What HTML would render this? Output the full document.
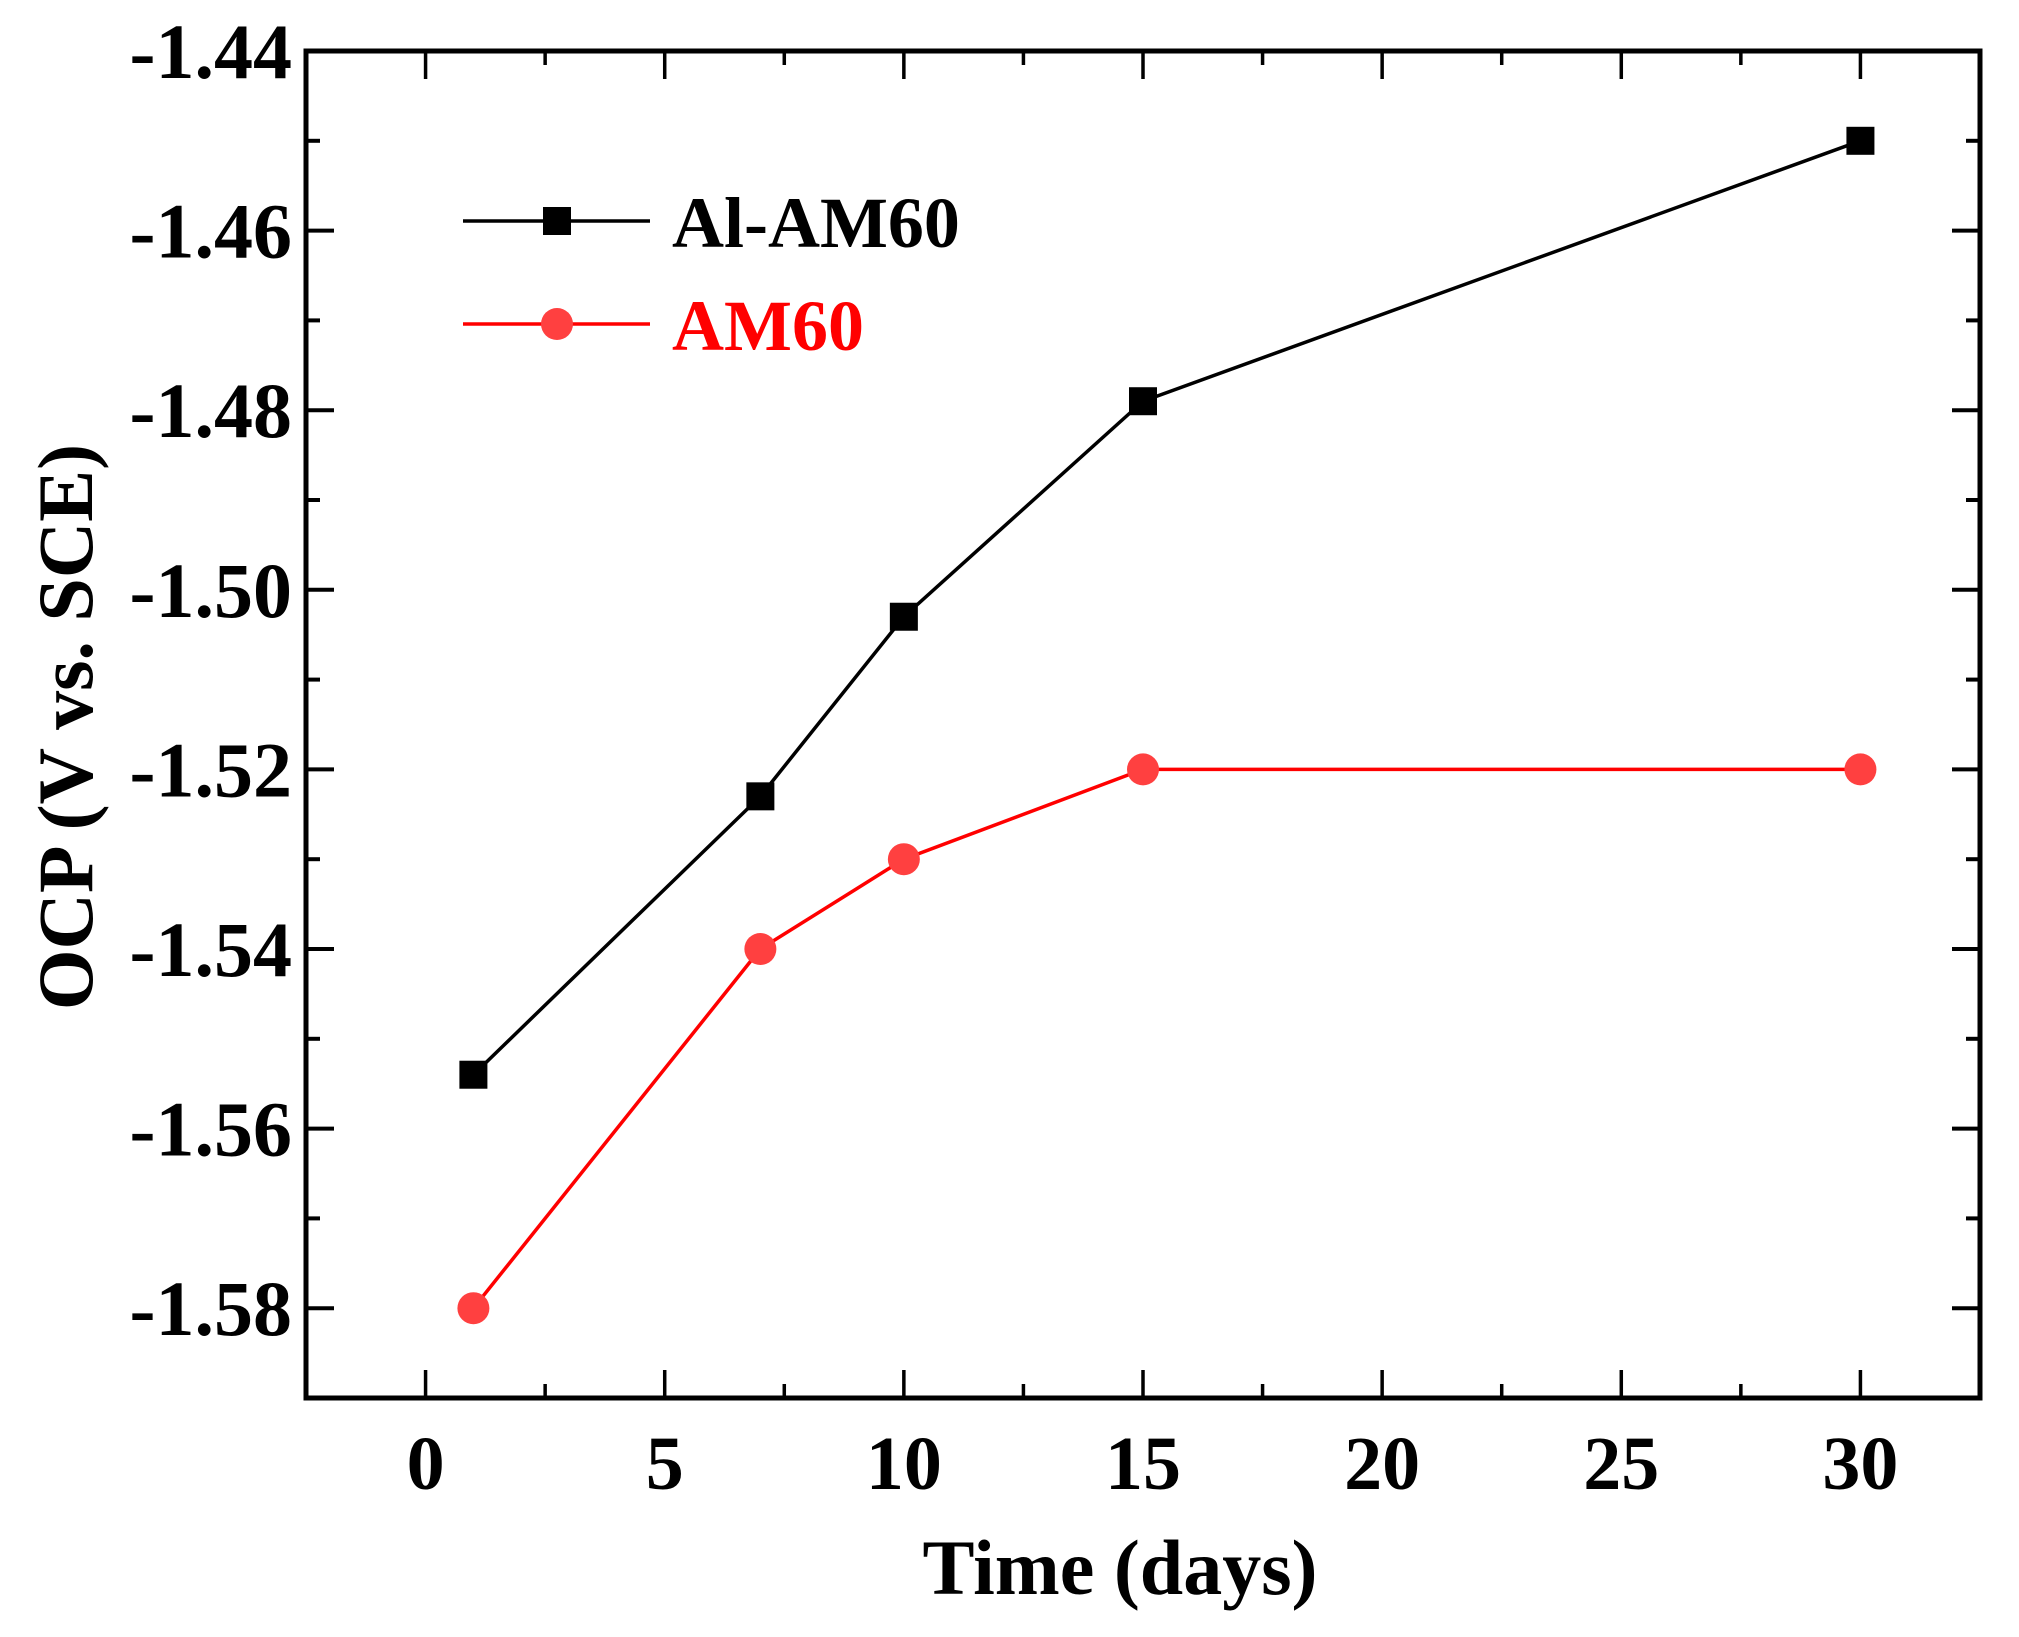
<!DOCTYPE html>
<html><head><meta charset="utf-8"><style>
html,body{margin:0;padding:0;background:#fff;}
svg{display:block;}
text{font-family:"Liberation Serif",serif;font-weight:bold;}
</style></head><body>
<svg id="chart" width="2019" height="1637" viewBox="0 0 2019 1637">
<g id="plot"></g>
</svg>
<script>
const xTicks=[0,5,10,15,20,25,30];
const yTicks=[-1.44,-1.46,-1.48,-1.50,-1.52,-1.54,-1.56,-1.58];
const yTickLabels=["-1.44","-1.46","-1.48","-1.50","-1.52","-1.54","-1.56","-1.58"];
const days=[1,7,10,15,30];
const alAM60=[-1.554,-1.523,-1.503,-1.479,-1.450];
const am60=[-1.580,-1.540,-1.530,-1.520,-1.520];

const L=306,R=1980,T=51,B=1398;
const xMin=-2.5,xMax=32.5,yMin=-1.59,yMax=-1.44;
const sx=v=>L+(v-xMin)/(xMax-xMin)*(R-L);
const sy=v=>B-(v-yMin)/(yMax-yMin)*(B-T);
const NS="http://www.w3.org/2000/svg";
const g=document.getElementById('plot');
function mk(tag,attrs,parent){const e=document.createElementNS(NS,tag);for(const k in attrs)e.setAttribute(k,attrs[k]);(parent||g).appendChild(e);return e;}

const frame=mk('rect',{x:L,y:T,width:R-L,height:B-T,fill:'none',stroke:'#000','stroke-width':5});



for(let v=0;v<=32.5;v+=2.5){
  const major=(v%5===0);const len=major?28:14;const x=sx(v);
  const t1=mk('line',{x1:x,x2:x,y1:B,y2:B-len,stroke:'#000','stroke-width':3.5});
  
  
  const t2=mk('line',{x1:x,x2:x,y1:T,y2:T+len,stroke:'#000','stroke-width':3.5});
  
  
}
xTicks.forEach(v=>{
  const t=mk('text',{x:sx(v),y:1489,'font-size':76,'text-anchor':'middle'});
  t.textContent=v;
  
  
});
for(let i=0;i<15;i++){
  const v=-1.58+i*0.01;const major=(i%2===0);const len=major?28:14;const y=sy(v);
  const t1=mk('line',{x1:L,x2:L+len,y1:y,y2:y,stroke:'#000','stroke-width':4});
  
  
  const t2=mk('line',{x1:R,x2:R-len,y1:y,y2:y,stroke:'#000','stroke-width':4});
  
  
}
yTicks.forEach((v,i)=>{
  const t=mk('text',{x:292,y:sy(v)+27,'font-size':78,'text-anchor':'end'});
  t.textContent=yTickLabels[i];
  
  
});
const xt=mk('text',{x:1120,y:1594,'font-size':78,'text-anchor':'middle'});
xt.textContent='Time (days)';


const yt=mk('text',{x:0,y:0,'font-size':78,'text-anchor':'middle',transform:'translate(92,727) rotate(-90)'});
yt.textContent='OCP (V vs. SCE)';



function series(vals,color,mcolor,shape,name){
  const pts=days.map((d,i)=>sx(d)+','+sy(vals[i])).join(' ');
  const pl=mk('polyline',{points:pts,fill:'none',stroke:color,'stroke-width':3.5});
  
  
  days.forEach((d,i)=>{
    let m;
    if(shape==='square') m=mk('rect',{x:sx(d)-14,y:sy(vals[i])-14,width:28,height:28,fill:mcolor});
    else m=mk('circle',{cx:sx(d),cy:sy(vals[i]),r:16,fill:mcolor});
    
    
  });
}
series(alAM60,'#000','#000','square','al-am60');
series(am60,'#ff0000','#ff4040','circle','am60');

const l1=mk('line',{x1:463,x2:650,y1:221,y2:221,stroke:'#000','stroke-width':3.5});


const l1m=mk('rect',{x:543,y:207,width:28,height:28,fill:'#000'});


const l1t=mk('text',{x:672,y:247,'font-size':72,fill:'#000'});
l1t.textContent='Al-AM60';


const l2=mk('line',{x1:463,x2:650,y1:324,y2:324,stroke:'#ff0000','stroke-width':3.5});


const l2m=mk('circle',{cx:557,cy:324,r:16,fill:'#ff4040'});


const l2t=mk('text',{x:672,y:350,'font-size':72,fill:'#ff0000'});
l2t.textContent='AM60';


</script>
</body></html>
